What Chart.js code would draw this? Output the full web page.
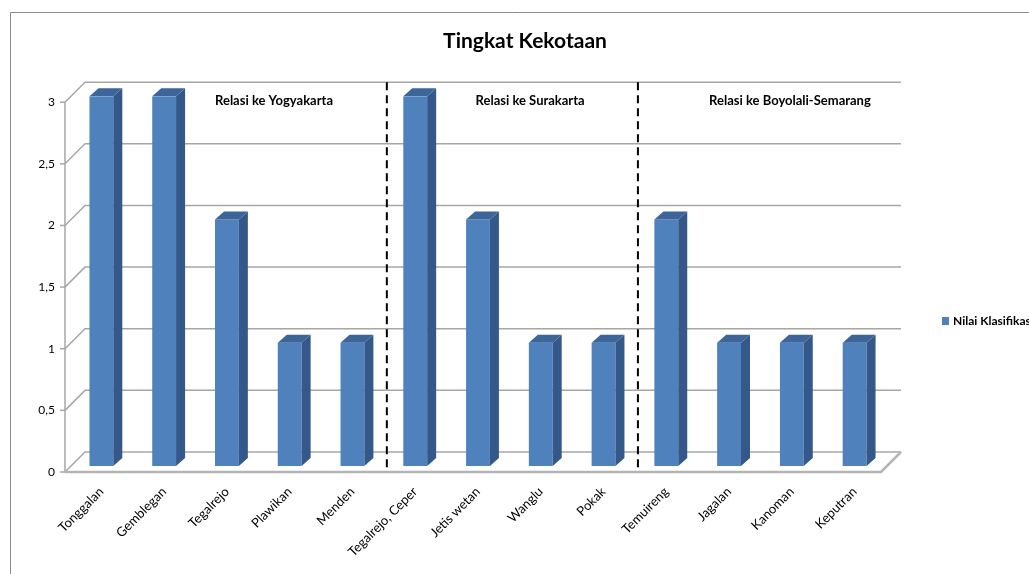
<!DOCTYPE html>
<html>
<head>
<meta charset="utf-8">
<script src="https://cdn.jsdelivr.net/npm/chart.js@4.4.1/dist/chart.umd.min.js"></script>
<style>
  html, body { margin: 0; padding: 0; background: #fff; overflow: hidden; }
  #wrap { width: 1029px; height: 574px; position: relative; }
</style>
</head>
<body>
<div id="wrap"><canvas id="chart" width="1029" height="574"></canvas></div>
<script>
// data
const categories = ['Tonggalan', 'Gemblegan', 'Tegalrejo', 'Plawikan', 'Menden',
  'Tegalrejo, Ceper', 'Jetis wetan', 'Wanglu', 'Pokak',
  'Temuireng', 'Jagalan', 'Kanoman', 'Keputran'];
const nilaiKlasifikasi = [3, 3, 2, 1, 1, 3, 2, 1, 1, 2, 1, 1, 1];
const seriesName = 'Nilai Klasifikasi';
const yTicks = [0, 0.5, 1, 1.5, 2, 2.5, 3];
// kelompok relasi: teks dan posisi (indeks kategori)
const groupLabels = ['Relasi ke Yogyakarta', 'Relasi ke Surakarta', 'Relasi ke Boyolali-Semarang'];
const groupLabelAt = [2.75, 6.83, 10.97];
const dividerAfter = [4, 8]; // garis putus-putus setelah kategori ini

const FONT = 'Lato, "Open Sans", sans-serif';
const DEPTH = { x: 20, y: -20 };   // kedalaman dinding belakang
const BAR3D = { x: 9, y: -8 };     // kedalaman batang

// hiasan gaya excel 3d: dinding, lantai, garis grid
const wallPlugin = {
  id: 'wall',
  beforeDatasetsDraw(chart) {
    const { ctx, chartArea, scales } = chart;
    const y = scales.y;
    const fx = chartArea.left - 5;      // sumbu depan
    const fr = chartArea.right - 5;
    const bx = fx + DEPTH.x;
    const br = fr + DEPTH.x;
    ctx.save();
    ctx.strokeStyle = '#a6a6a6';
    ctx.lineWidth = 1.5;
    yTicks.forEach(v => {
      const py = y.getPixelForValue(v);
      ctx.beginPath();
      ctx.moveTo(fx, py + 6);
      ctx.lineTo(bx, py - 14);
      ctx.lineTo(br, py - 14);
      ctx.stroke();
      // tanda kecil di sumbu
      ctx.beginPath();
      ctx.moveTo(fx - 5, py + 6);
      ctx.lineTo(fx, py + 6);
      ctx.stroke();
    });
    // sumbu y depan
    ctx.beginPath();
    ctx.moveTo(fx, y.getPixelForValue(3) + 6);
    ctx.lineTo(fx, y.getPixelForValue(0) + 6);
    ctx.stroke();
    // lantai
    const y0 = y.getPixelForValue(0);
    ctx.strokeStyle = '#b4b4b4';
    ctx.lineWidth = 2.5;
    ctx.beginPath();
    ctx.moveTo(fx, y0 + 6);
    ctx.lineTo(fr, y0 + 6);
    ctx.lineTo(br, y0 - 14);
    ctx.stroke();
    ctx.restore();
  },
  afterDatasetsDraw(chart) {
    const { ctx, scales } = chart;
    const meta = chart.getDatasetMeta(0);
    ctx.save();
    meta.data.forEach(bar => {
      const { x, y, base, width } = bar.getProps(['x', 'y', 'base', 'width'], true);
      const l = x - width / 2, r = x + width / 2;
      // sisi kanan
      ctx.fillStyle = '#34588a';
      ctx.beginPath();
      ctx.moveTo(r, y);
      ctx.lineTo(r + BAR3D.x, y + BAR3D.y);
      ctx.lineTo(r + BAR3D.x, base + BAR3D.y);
      ctx.lineTo(r, base);
      ctx.closePath();
      ctx.fill();
      // atas
      ctx.fillStyle = '#3d6599';
      ctx.beginPath();
      ctx.moveTo(l, y);
      ctx.lineTo(l + BAR3D.x, y + BAR3D.y);
      ctx.lineTo(r + BAR3D.x, y + BAR3D.y);
      ctx.lineTo(r, y);
      ctx.closePath();
      ctx.fill();
    });
    // garis pemisah putus-putus
    const xs = scales.x, ys = scales.y;
    const step = xs.getPixelForValue(1) - xs.getPixelForValue(0);
    ctx.strokeStyle = '#000';
    ctx.lineWidth = 2;
    ctx.setLineDash([8, 5]);
    dividerAfter.forEach(i => {
      const px = xs.getPixelForValue(i) + step / 2 + 3;
      ctx.beginPath();
      ctx.moveTo(px, ys.getPixelForValue(3) - 14);
      ctx.lineTo(px, ys.getPixelForValue(0) + 2);
      ctx.stroke();
    });
    ctx.setLineDash([]);
    // teks kelompok
    ctx.fillStyle = '#000';
    ctx.font = 'bold 13px ' + FONT;
    ctx.textAlign = 'center';
    ctx.textBaseline = 'middle';
    groupLabels.forEach((t, i) => {
      const px = xs.getPixelForValue(0) + groupLabelAt[i] * step;
      ctx.fillText(t, px, ys.getPixelForValue(3) + 5);
    });
    // legenda
    ctx.fillStyle = '#4f81bd';
    ctx.fillRect(942, 317, 7, 8);
    ctx.fillStyle = '#000';
    ctx.font = 'bold 12px ' + FONT;
    ctx.textAlign = 'left';
    ctx.fillText(seriesName, 953, 321);
    ctx.restore();
  },
  afterDraw(chart) {
    // bingkai grafik
    const { ctx } = chart;
    ctx.save();
    ctx.strokeStyle = '#8c8c8c';
    ctx.lineWidth = 1;
    ctx.beginPath();
    ctx.moveTo(10.5, 574);
    ctx.lineTo(10.5, 12.5);
    ctx.lineTo(1029, 12.5);
    ctx.stroke();
    ctx.restore();
  }
};

new Chart(document.getElementById('chart'), {
  type: 'bar',
  data: {
    labels: categories,
    datasets: [{
      label: seriesName,
      data: nilaiKlasifikasi,
      backgroundColor: '#4f81bd',
      borderWidth: 0,
      barPercentage: 0.38,
      categoryPercentage: 1
    }]
  },
  options: {
    responsive: false,
    animation: false,
    layout: { padding: { left: 21, right: 0, top: 0, bottom: 0 } },
    plugins: {
      legend: { display: false },
      tooltip: { enabled: false },
      title: {
        display: true,
        text: 'Tingkat Kekotaan',
        color: '#000',
        font: { family: FONT, size: 21, weight: 'bold', lineHeight: 1.2 },
        padding: { top: 29, bottom: 42 }
      }
    },
    scales: {
      x: {
        grid: { display: false, drawTicks: false },
        border: { display: false },
        ticks: {
          color: '#000',
          font: { family: FONT, size: 13 },
          maxRotation: 45,
          minRotation: 45,
          padding: 18,
          autoSkip: false
        },
        afterFit(scale) { scale.height = 108; }
      },
      y: {
        min: 0,
        max: 3,
        grid: { display: false, drawTicks: false },
        border: { display: false },
        ticks: {
          stepSize: 0.5,
          color: '#000',
          font: { family: FONT, size: 12 },
          padding: 15,
          labelOffset: 6,
          callback: v => String(v).replace('.', ',')
        },
        afterFit(scale) { scale.width = 49; }
      },
      // ruang kosong untuk legenda di kanan
      yRight: {
        position: 'right',
        display: true,
        grid: { display: false, drawTicks: false },
        border: { display: false },
        ticks: { display: false },
        afterFit(scale) { scale.width = 143; }
      }
    }
  },
  plugins: [wallPlugin]
});
</script>
</body>
</html>
